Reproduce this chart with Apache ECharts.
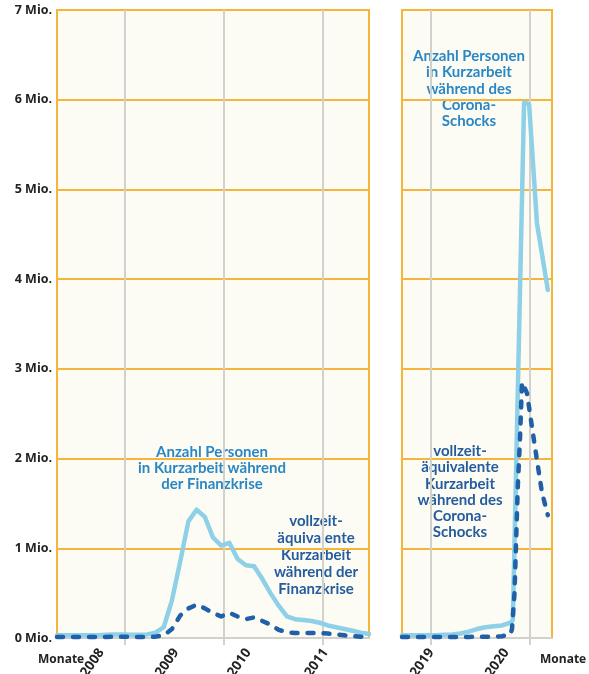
<!DOCTYPE html>
<html>
<head>
<meta charset="utf-8">
<script src="https://cdn.jsdelivr.net/npm/echarts@6/dist/echarts.min.js"></script>
<style>
html,body{margin:0;padding:0;background:#fff;}
#chart{width:589px;height:674px;}
</style>
</head>
<body>
<div id="chart"></div>
<script>
// ---------- Data ----------
// Left panel: Finanzkrise, months since Jan 2008 (x), millions (y)
const finanzMonths = [0,1,2,3,4,5,6,7,8,9,10,11,12,13,14,15,16,17,18,19,20,21,22,23,24,25,26,27,28,29,30,31,32,33,34,35,36,37,38];
const finanzPersonen = [0.03,0.03,0.03,0.03,0.03,0.03,0.035,0.04,0.04,0.035,0.035,0.04,0.06,0.12,0.42,0.85,1.30,1.43,1.35,1.12,1.03,1.06,0.88,0.81,0.80,0.66,0.50,0.36,0.24,0.21,0.20,0.19,0.17,0.14,0.12,0.10,0.08,0.06,0.045];
const finanzVollzeit = [0.01,0.01,0.01,0.01,0.01,0.01,0.012,0.015,0.015,0.012,0.012,0.012,0.015,0.03,0.10,0.25,0.33,0.37,0.33,0.28,0.24,0.28,0.24,0.21,0.23,0.19,0.15,0.09,0.065,0.055,0.055,0.055,0.055,0.05,0.04,0.03,0.02,0.015,0.01];
const leftGridMonths = [8.3, 20.35, 32.4];
const leftLabelMonths = [5.4, 14.5, 23.3, 32.7];
const leftLabelText = ['2008','2009','2010','2011'];

// Right panel: Corona, months since Jan 2019 (x), millions (y)
const coronaPersonenMonths = [0,1,2,3,4,5,6,7,8,9,10,11,12,13,13.3,14.65,15.25,16.2,17.5];
const coronaPersonen = [0.03,0.03,0.03,0.03,0.03,0.035,0.04,0.05,0.07,0.1,0.12,0.13,0.14,0.17,0.2,5.97,5.95,4.62,3.88];
const coronaVollzeitMonths = [0,1,2,3,4,5,6,7,8,9,10,11,12,13,13.2,13.5,13.9,14.15,14.4,15,15.6,16.2,16.8,17.5];
const coronaVollzeit = [0.01,0.01,0.01,0.01,0.01,0.01,0.01,0.01,0.012,0.015,0.015,0.015,0.02,0.04,0.1,0.5,1.7,2.2,2.85,2.73,2.35,1.98,1.62,1.37];
const rightGridMonths = [3.48, 15.37];
const rightLabelMonths = [3.5, 12.5];
const rightLabelText = ['2019','2020'];

const yTicks = [0,1,2,3,4,5,6,7];

// ---------- Styles ----------
const ORANGE = '#F5B53A';
const GRAY = '#D3D1CC';
const CREAM = '#FDFCF4';
const LIGHTBLUE = '#8DD0E8';
const DARKBLUE = '#2060A8';
const TXTBLUE = '#2A87C5';
const TXTDARK = '#245C9E';

const pair = (xs, ys) => xs.map((x, i) => [x, ys[i]]);

function xAxisFor(gridIndex, max, gridVals, labelVals, labelText) {
  return {
    type: 'value', gridIndex: gridIndex, min: 0, max: max,
    axisLine: { show: true, onZero: false, lineStyle: { color: GRAY, width: 2 } },
    axisTick: { show: true, customValues: gridVals, length: 7, lineStyle: { color: GRAY, width: 2 } },
    splitLine: { show: true, lineStyle: { color: GRAY, width: 2 } },
    axisLabel: {
      customValues: labelVals, rotate: 55, margin: 12,
      color: '#222', fontFamily: 'Open Sans', fontWeight: 'bold', fontSize: 13.5,
      formatter: v => { const i = labelVals.indexOf(v); return i >= 0 ? labelText[i] : ''; }
    }
  };
}
function yAxisFor(gridIndex, showLabels) {
  return {
    type: 'value', gridIndex: gridIndex, min: 0, max: 7, interval: 1,
    axisLine: { show: false }, axisTick: { show: false },
    splitLine: { show: true, lineStyle: { color: ORANGE, width: 2 } },
    axisLabel: {
      show: showLabels, margin: 5, color: '#222', fontFamily: 'Open Sans', fontWeight: 'bold', fontSize: 12.5,
      formatter: v => yTicks.indexOf(v) >= 0 ? v + ' Mio.' : ''
    }
  };
}

const FONT = 'bold 15px Lato';
const chart = echarts.init(document.getElementById('chart'), null, { renderer: 'canvas' });
chart.setOption({
  animation: false,
  backgroundColor: '#fff',
  grid: [
    { left: 57, top: 10, width: 312, height: 628, outerBoundsMode: 'none', containLabel: false, show: true, backgroundColor: CREAM, borderColor: ORANGE, borderWidth: 2 },
    { left: 402, top: 10, width: 150, height: 628, outerBoundsMode: 'none', containLabel: false, show: true, backgroundColor: CREAM, borderColor: ORANGE, borderWidth: 2 }
  ],
  xAxis: [
    xAxisFor(0, 38, leftGridMonths, leftLabelMonths, leftLabelText),
    xAxisFor(1, 18, rightGridMonths, rightLabelMonths, rightLabelText)
  ],
  yAxis: [ yAxisFor(0, true), yAxisFor(1, false) ],
  series: [
    { type: 'line', xAxisIndex: 0, yAxisIndex: 0, data: pair(finanzMonths, finanzPersonen), showSymbol: false, z: 3,
      lineStyle: { color: LIGHTBLUE, width: 4.5, cap: 'round', join: 'round' } },
    { type: 'line', xAxisIndex: 0, yAxisIndex: 0, data: pair(finanzMonths, finanzVollzeit), showSymbol: false, z: 4,
      lineStyle: { color: DARKBLUE, width: 4.5, type: [6, 10], cap: 'round', join: 'round' } },
    { type: 'line', xAxisIndex: 1, yAxisIndex: 1, data: pair(coronaPersonenMonths, coronaPersonen), showSymbol: false, z: 3,
      lineStyle: { color: LIGHTBLUE, width: 4.5, cap: 'round', join: 'round' } },
    { type: 'line', xAxisIndex: 1, yAxisIndex: 1, data: pair(coronaVollzeitMonths, coronaVollzeit), showSymbol: false, z: 4,
      lineStyle: { color: DARKBLUE, width: 4.5, type: [6, 10], cap: 'round', join: 'round' } }
  ],
  graphic: [
    { type: 'text', left: 38, top: 654, style: { text: 'Monate', fill: '#222', font: 'bold 12px "Open Sans"' } },
    { type: 'text', left: 540, top: 654, style: { text: 'Monate', fill: '#222', font: 'bold 12px "Open Sans"' } },
    { type: 'text', x: 212, y: 444, style: { text: 'Anzahl Personen\nin Kurzarbeit während\nder Finanzkrise', fill: TXTBLUE, font: FONT, align: 'center', lineHeight: 16 } },
    { type: 'text', x: 316, y: 513, style: { text: 'vollzeit-\näquivalente\nKurzarbeit\nwährend der\nFinanzkrise', fill: TXTDARK, font: FONT, align: 'center', lineHeight: 17 } },
    { type: 'text', x: 469, y: 48, style: { text: 'Anzahl Personen\nin Kurzarbeit\nwährend des\nCorona-\nSchocks', fill: TXTBLUE, font: FONT, align: 'center', lineHeight: 16.3 } },
    { type: 'text', x: 460, y: 443, style: { text: 'vollzeit-\näquivalente\nKurzarbeit\nwährend des\nCorona-\nSchocks', fill: TXTDARK, font: FONT, align: 'center', lineHeight: 16.3 } }
  ]
});
</script>
</body>
</html>
